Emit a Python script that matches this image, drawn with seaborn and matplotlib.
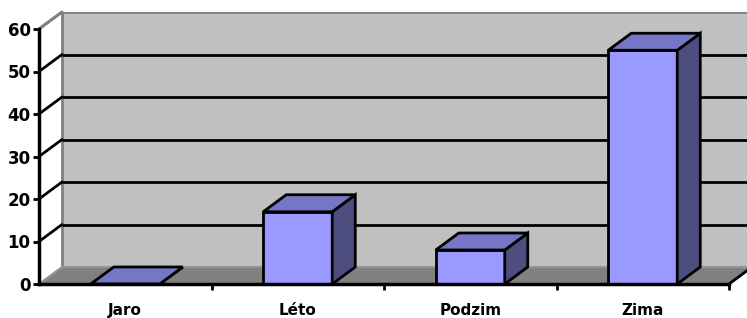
import matplotlib
matplotlib.use("Agg")
import matplotlib.pyplot as plt
from matplotlib.patches import Polygon
import seaborn as sns
import pandas as pd

categories = ["Jaro", "Léto", "Podzim", "Zima"]
values = [0, 17, 8, 55]
y_ticks = [0, 10, 20, 30, 40, 50, 60]

sns.set_theme(style="white")
plt.rcParams["font.family"] = ["DejaVu Sans"]

W, H = 747, 318
fig = plt.figure(figsize=(W / 100, H / 100), dpi=100)
fig.patch.set_facecolor("white")

# depth offsets (in data units)
DX = 23 / 172.5
DY = 4.0
xmin, xmax = -0.5, 3.5
ymax = 60

left_px, right_px = 39, 39 + (xmax + DX - xmin) * 172.5
bot_px, top_px = 284, 284 - (ymax + DY) * 4.25
ax = fig.add_axes([left_px / W, (H - bot_px) / H, (right_px - left_px) / W, (bot_px - top_px) / H])
ax.patch.set_alpha(0)

df = pd.DataFrame({"kat": categories, "val": values})
sns.barplot(data=df, x="kat", y="val", width=0.4, color="#9999FF", saturation=1,
            edgecolor="black", linewidth=2, ax=ax, zorder=3)
bars = list(ax.patches)

ax.set_xlim(xmin, xmax + DX)
ax.set_ylim(0, ymax + DY)

# back wall
ax.add_patch(Polygon([(xmin + DX, DY), (xmax + DX, DY), (xmax + DX, ymax + DY), (xmin + DX, ymax + DY)],
                     closed=True, facecolor="#C0C0C0", edgecolor="#808080", lw=2, zorder=0))
# side wall outline
ax.plot([xmin, xmin + DX], [ymax, ymax + DY], color="#808080", lw=2, zorder=1, clip_on=False)
# floor
ax.add_patch(Polygon([(xmin, 0), (xmax, 0), (xmax + DX, DY), (xmin + DX, DY)],
                     closed=True, facecolor="#808080", edgecolor="#959595", lw=1.5, zorder=1, clip_on=False))
ax.plot([xmax, xmax + DX], [0, DY], color="black", lw=2, zorder=2, clip_on=False)

# gridlines on back wall + diagonal ticks on side wall
for v in y_ticks:
    if v == 0:
        continue
    col = "black" if v < ymax else "#808080"
    if v < ymax:
        ax.plot([xmin + DX, xmax + DX], [v + DY, v + DY], color=col, lw=2, zorder=1, solid_capstyle="butt")
    ax.plot([xmin, xmin + DX], [v, v + DY], color=col, lw=2, zorder=1, clip_on=False)

for p in bars:
    x0, w, h = p.get_x(), p.get_width(), p.get_height()
    top = Polygon([(x0, h), (x0 + w, h), (x0 + w + DX, h + DY), (x0 + DX, h + DY)],
                  closed=True, facecolor="#7676C6", edgecolor="black", lw=2, zorder=4, joinstyle="miter")
    side = Polygon([(x0 + w, 0), (x0 + w + DX, DY), (x0 + w + DX, h + DY), (x0 + w, h)],
                   closed=True, facecolor="#4D4D80", edgecolor="black", lw=2, zorder=4, joinstyle="miter")
    ax.add_patch(side)
    ax.add_patch(top)

# axes
for s in ["top", "right"]:
    ax.spines[s].set_visible(False)
ax.spines["left"].set_bounds(0, ymax)
ax.spines["bottom"].set_bounds(xmin, xmax)
for s in ["left", "bottom"]:
    ax.spines[s].set_color("black")
    ax.spines[s].set_linewidth(2.5)
    ax.spines[s].set_zorder(5)

ax.set_yticks(y_ticks)
ax.set_yticklabels([str(v) for v in y_ticks], fontsize=12, fontweight="bold", color="black")
ax.tick_params(axis="y", direction="out", length=4, width=2, color="black", pad=2, left=True)

ax.set_xticks(range(len(categories)))
ax.set_xticklabels(categories, fontsize=11, fontweight="bold", color="black")
ax.tick_params(axis="x", which="major", length=0, pad=14)
ax.set_xticks([0.5, 1.5, 2.5, 3.5], minor=True)
ax.tick_params(axis="x", which="minor", direction="out", length=4, width=2, color="black", bottom=True)

ax.set_xlabel("")
ax.set_ylabel("")

fig.savefig("out.png", dpi=100)
